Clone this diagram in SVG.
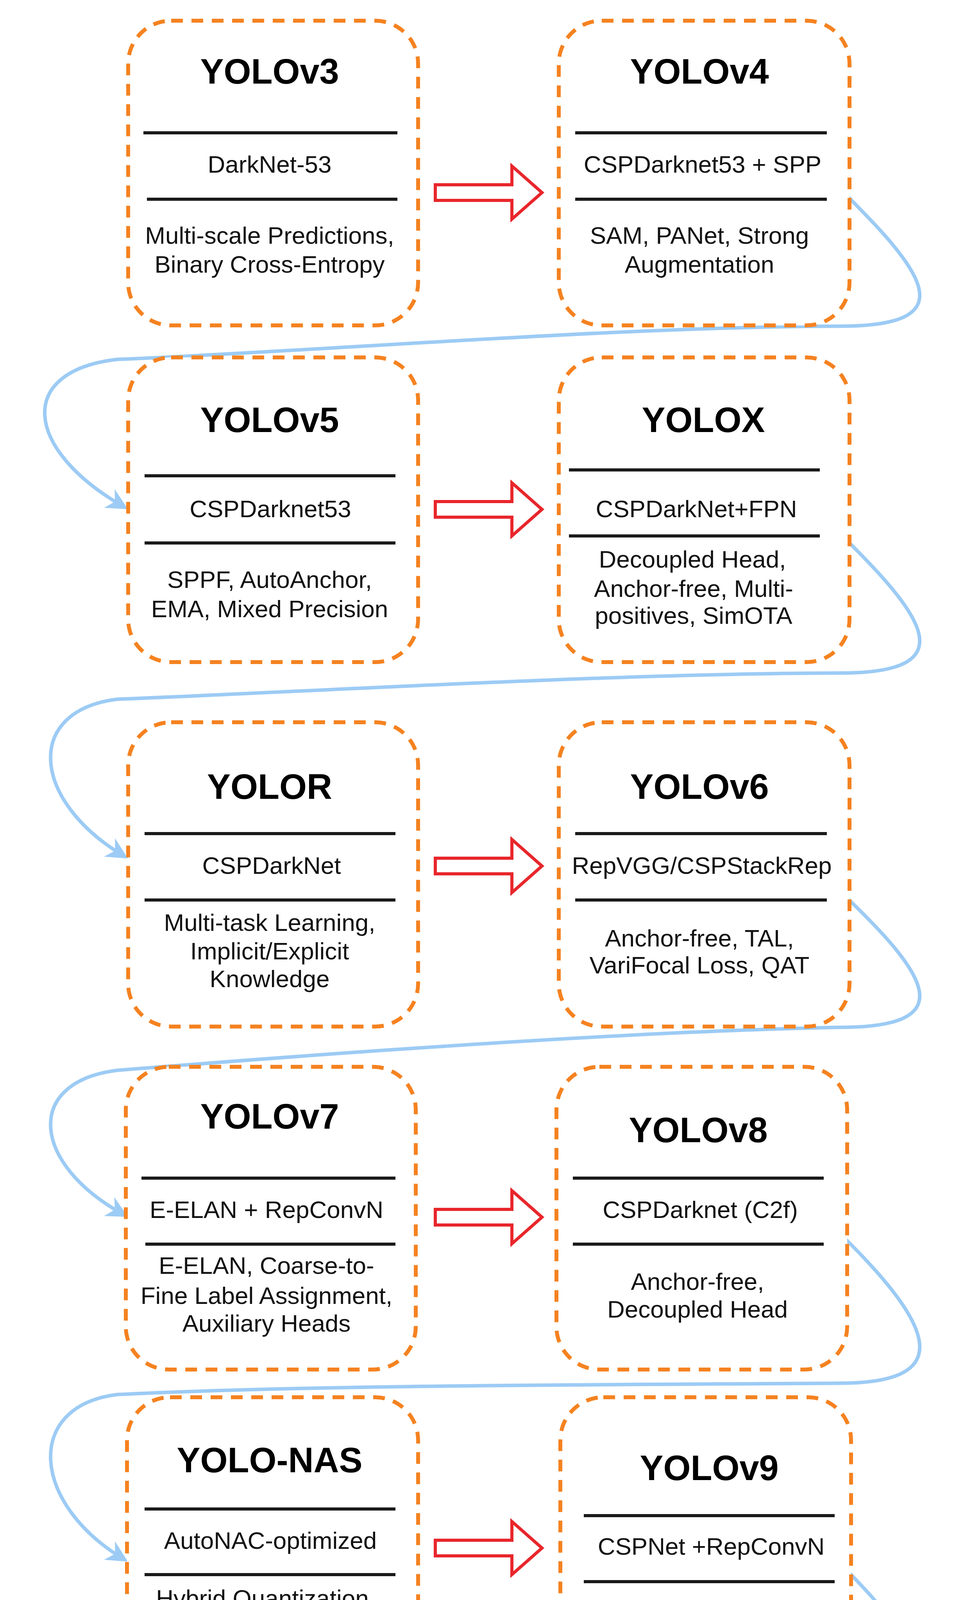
<svg xmlns="http://www.w3.org/2000/svg" width="2467" height="5288" viewBox="0 0 2467 5288">
<defs>
<style>
.box{fill:#fff;stroke:#F58220;stroke-width:10;stroke-dasharray:30 22;}
.sep{stroke:#1a1a1a;stroke-width:8;}
.t{font-family:"Liberation Sans Narrow","Liberation Sans",Arial,sans-serif;font-weight:bold;font-size:90px;text-anchor:middle;fill:#000;}
.m{font-family:"Liberation Sans Narrow","Liberation Sans",Arial,sans-serif;font-size:62px;text-anchor:middle;fill:#111;}
.ra{fill:#fff;stroke:#E8262B;stroke-width:8;stroke-linejoin:miter;}
.fl{fill:none;stroke:#9CCBF5;stroke-width:9;}
</style>
<marker id="ah" viewBox="0 0 10 10" refX="8" refY="5" markerWidth="55" markerHeight="55" orient="auto" markerUnits="userSpaceOnUse">
<path d="M0,0 L10,5 L0,10 L3,5 Z" fill="#9CCBF5"/>
</marker>
</defs>
<rect width="2467" height="5288" fill="#fff"/>
<g id="connectors">
<path class="fl" marker-end="url(#ah)" d="M2124 458 C2350 680 2490 835 2150 835 C1600 835 800 900 300 920 C40 950 60 1150 318 1298"/>
<path class="fl" marker-end="url(#ah)" d="M2124 1341 C2350 1560 2490 1723 2150 1723 C1600 1723 800 1770 300 1790 C60 1820 80 2050 318 2192"/>
<path class="fl" marker-end="url(#ah)" d="M2124 2257 C2350 2470 2490 2630 2150 2630 C1600 2640 800 2700 300 2740 C60 2770 80 2980 318 3110"/>
<path class="fl" marker-end="url(#ah)" d="M2124 3133 C2350 3350 2490 3541 2150 3541 C1600 3545 800 3545 300 3570 C60 3600 80 3850 318 3992"/>
<path class="fl" marker-end="url(#ah)" d="M2147 4000 C2350 4200 2490 4408 2150 4408 C1600 4408 800 4410 300 4430 C60 4470 80 4700 318 4835"/>
<g>
<path class="ra" d="M1114 473 H1310 V425 L1387 493 L1310 561 V513 H1114 Z"/>
<path class="ra" d="M1114 1284 H1310 V1236 L1387 1304 L1310 1372 V1324 H1114 Z"/>
<path class="ra" d="M1114 2197 H1310 V2149 L1387 2217 L1310 2285 V2237 H1114 Z"/>
<path class="ra" d="M1114 3096 H1310 V3048 L1387 3116 L1310 3184 V3136 H1114 Z"/>
<path class="ra" d="M1114 3943 H1310 V3895 L1387 3963 L1310 4031 V3983 H1114 Z"/>
<path class="ra" d="M1114 4843 H1310 V4795 L1387 4863 L1310 4931 V4883 H1114 Z"/>
</g>
</g>
<g id="yolov3">
<rect class="box" x="328" y="53" width="742" height="780" rx="110"/>
<line class="sep" x1="367" y1="340" x2="1017" y2="340"/><line class="sep" x1="376" y1="510" x2="1017" y2="510"/>
<text class="t" x="690" y="214">YOLOv3</text>
<text class="m" x="690" y="442">DarkNet-53</text>
<text class="m" x="690" y="624">Multi-scale Predictions,</text>
<text class="m" x="690" y="698">Binary Cross-Entropy</text>
</g>
<g id="yolov4">
<rect class="box" x="1430" y="53" width="744" height="780" rx="110"/>
<line class="sep" x1="1472" y1="340" x2="2116" y2="340"/><line class="sep" x1="1472" y1="510" x2="2116" y2="510"/>
<text class="t" x="1790" y="214">YOLOv4</text>
<text class="m" x="1798" y="442">CSPDarknet53 + SPP</text>
<text class="m" x="1790" y="624">SAM, PANet, Strong</text>
<text class="m" x="1790" y="698">Augmentation</text>
</g>
<g id="yolov5">
<rect class="box" x="328" y="915" width="742" height="780" rx="110"/>
<line class="sep" x1="370" y1="1218" x2="1012" y2="1218"/><line class="sep" x1="370" y1="1390" x2="1012" y2="1390"/>
<text class="t" x="690" y="1106">YOLOv5</text>
<text class="m" x="692" y="1324">CSPDarknet53</text>
<text class="m" x="690" y="1505">SPPF, AutoAnchor,</text>
<text class="m" x="690" y="1580">EMA, Mixed Precision</text>
</g>
<g id="yolox">
<rect class="box" x="1430" y="915" width="744" height="780" rx="110"/>
<line class="sep" x1="1456" y1="1203" x2="2098" y2="1203"/><line class="sep" x1="1456" y1="1372" x2="2098" y2="1372"/>
<text class="t" x="1800" y="1106">YOLOX</text>
<text class="m" x="1782" y="1324">CSPDarkNet+FPN</text>
<text class="m" x="1772" y="1453">Decoupled Head,</text>
<text class="m" x="1775" y="1528">Anchor-free, Multi-</text>
<text class="m" x="1775" y="1597">positives, SimOTA</text>
</g>
<g id="yolor">
<rect class="box" x="328" y="1849" width="742" height="779" rx="110"/>
<line class="sep" x1="370" y1="2134" x2="1012" y2="2134"/><line class="sep" x1="370" y1="2304" x2="1012" y2="2304"/>
<text class="t" x="690" y="2045">YOLOR</text>
<text class="m" x="695" y="2237">CSPDarkNet</text>
<text class="m" x="690" y="2383">Multi-task Learning,</text>
<text class="m" x="690" y="2456">Implicit/Explicit</text>
<text class="m" x="690" y="2527">Knowledge</text>
</g>
<g id="yolov6">
<rect class="box" x="1430" y="1849" width="744" height="779" rx="110"/>
<line class="sep" x1="1472" y1="2134" x2="2116" y2="2134"/><line class="sep" x1="1472" y1="2304" x2="2116" y2="2304"/>
<text class="t" x="1790" y="2045">YOLOv6</text>
<text class="m" x="1796" y="2237">RepVGG/CSPStackRep</text>
<text class="m" x="1790" y="2423">Anchor-free, TAL,</text>
<text class="m" x="1790" y="2492">VariFocal Loss,  QAT</text>
</g>
<g id="yolov7">
<rect class="box" x="322" y="2731" width="742" height="775" rx="110"/>
<line class="sep" x1="362" y1="3016" x2="1012" y2="3016"/><line class="sep" x1="372" y1="3185" x2="1012" y2="3185"/>
<text class="t" x="690" y="2889">YOLOv7</text>
<text class="m" x="682" y="3118">E-ELAN + RepConvN</text>
<text class="m" x="682" y="3261">E-ELAN, Coarse-to-</text>
<text class="m" x="682" y="3338">Fine Label Assignment,</text>
<text class="m" x="682" y="3409">Auxiliary Heads</text>
</g>
<g id="yolov8">
<rect class="box" x="1424" y="2731" width="744" height="775" rx="110"/>
<line class="sep" x1="1466" y1="3016" x2="2108" y2="3016"/><line class="sep" x1="1466" y1="3185" x2="2108" y2="3185"/>
<text class="t" x="1787" y="2924">YOLOv8</text>
<text class="m" x="1792" y="3118">CSPDarknet (C2f)</text>
<text class="m" x="1785" y="3302">Anchor-free,</text>
<text class="m" x="1785" y="3373">Decoupled Head</text>
</g>
<g id="yolo-nas">
<rect class="box" x="325" y="3577" width="745" height="777" rx="110"/>
<line class="sep" x1="370" y1="3863" x2="1012" y2="3863"/><line class="sep" x1="370" y1="4031" x2="1012" y2="4031"/>
<text class="t" x="690" y="3769">YOLO-NAS</text>
<text class="m" x="692" y="3965">AutoNAC-optimized</text>
<text class="m" x="680" y="4113">Hybrid Quantization,</text>
<text class="m" x="690" y="4184">PTQ, Distribution Focal</text>
<text class="m" x="690" y="4256">Loss</text>
</g>
<g id="yolov9">
<rect class="box" x="1434" y="3577" width="744" height="777" rx="110"/>
<line class="sep" x1="1494" y1="3880" x2="2136" y2="3880"/><line class="sep" x1="1494" y1="4049" x2="2136" y2="4049"/>
<text class="t" x="1815" y="3789">YOLOv9</text>
<text class="m" x="1820" y="3980">CSPNet +RepConvN</text>
<text class="m" x="1815" y="4164">PGI,GELAN, Auxiliary</text>
<text class="m" x="1815" y="4235">Reversible Branches</text>
</g>
<g id="yolov10">
<rect class="box" x="322" y="4457" width="744" height="777" rx="110"/>
<line class="sep" x1="382" y1="4759" x2="1022" y2="4759"/><line class="sep" x1="382" y1="4929" x2="1022" y2="4929"/>
<text class="t" x="703" y="4668">YOLOv10</text>
<text class="m" x="708" y="4863">CSPNet</text>
<text class="m" x="703" y="5008">NMS-Free Dual</text>
<text class="m" x="703" y="5081">Assignments, CIB,</text>
<text class="m" x="703" y="5154">PSA</text>
</g>
<g id="yolo11">
<rect class="box" x="1444" y="4457" width="743" height="777" rx="110"/>
<line class="sep" x1="1506" y1="4759" x2="2146" y2="4759"/><line class="sep" x1="1506" y1="4929" x2="2146" y2="4929"/>
<text class="t" x="1822" y="4668">YOLO11</text>
<text class="m" x="1832" y="4863">CSPNet (C3k2)</text>
<text class="m" x="1825" y="5008">Spatial Attention</text>
<text class="m" x="1825" y="5081">(C2PSA), Decoupled</text>
<text class="m" x="1825" y="5154">Detect Head</text>
</g>
</svg>
